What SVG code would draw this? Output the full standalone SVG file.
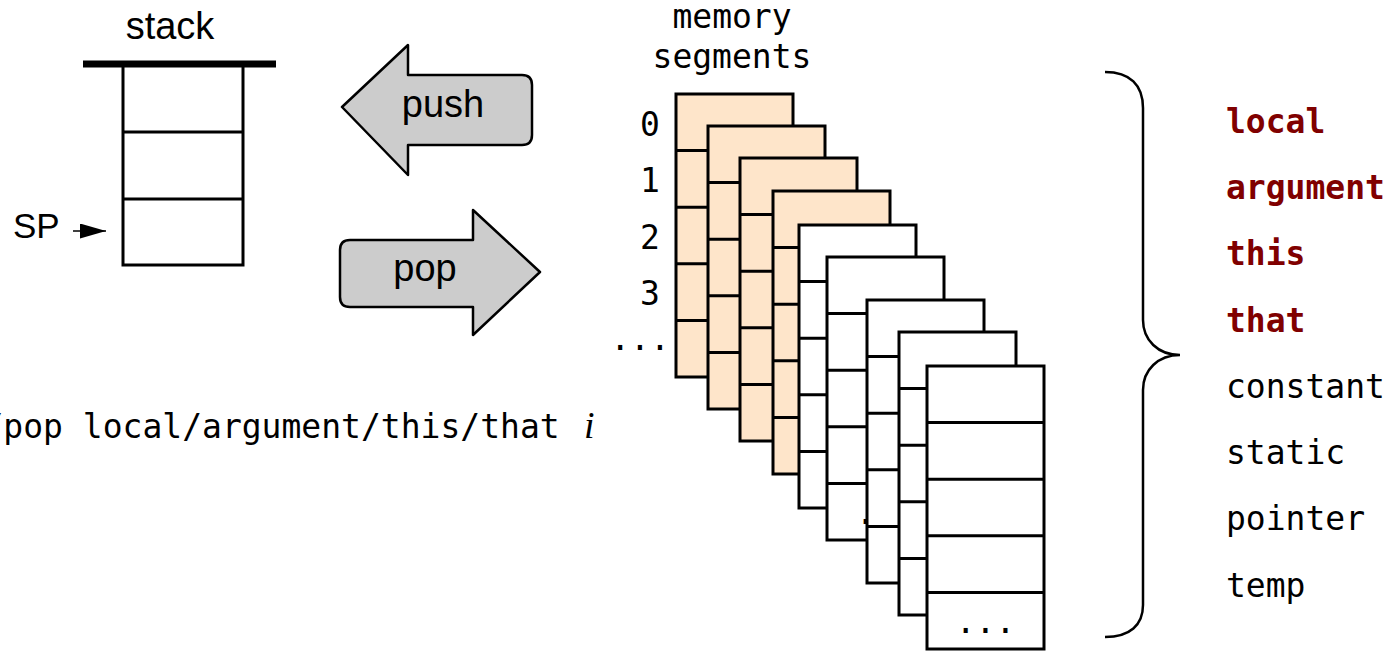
<svg xmlns="http://www.w3.org/2000/svg" xmlns:xlink="http://www.w3.org/1999/xlink" width="1394" height="651" viewBox="0 0 1394 651">
<style>
.sans{font-family:"Liberation Sans",Arial,sans-serif;fill:#000}
.mono{font-family:"DejaVu Sans Mono","Liberation Mono",monospace;font-size:33px;fill:#000}
.red{fill:#800000;font-weight:bold}
.box{stroke:#000;stroke-width:3;fill:none}
.seg{stroke:#000;stroke-width:3}
.orange{fill:#FEE5CA}
.white{fill:#fff}
.div{stroke:#000;stroke-width:3}
.arrow{fill:#cccccc;stroke:#000;stroke-width:2.5;stroke-linejoin:round}
</style>
<defs>
<g id="dividers">
<line class="div" x1="0" y1="56.6" x2="117" y2="56.6"/>
<line class="div" x1="0" y1="113.2" x2="117" y2="113.2"/>
<line class="div" x1="0" y1="169.8" x2="117" y2="169.8"/>
<line class="div" x1="0" y1="226.4" x2="117" y2="226.4"/>
</g>
<marker id="head" viewBox="0 0 26 15" refX="26" refY="7.5" markerWidth="26" markerHeight="15" markerUnits="userSpaceOnUse" orient="auto">
<path d="M0,0 L26,7.5 L0,15 Z" fill="#000"/>
</marker>
</defs>
<rect width="1394" height="651" fill="#fff"/>

<g id="stack">
<text class="sans" x="170" y="39" font-size="38" text-anchor="middle">stack</text>
<rect class="box" x="123" y="64" width="120" height="201"/>
<line class="div" x1="123" y1="132" x2="243" y2="132"/>
<line class="div" x1="123" y1="199" x2="243" y2="199"/>
<line x1="83" y1="64" x2="276" y2="64" stroke="#000" stroke-width="7"/>
</g>

<g id="sp-label">
<text class="sans" x="13" y="238" font-size="35">SP</text>
</g>

<g id="push">
<path class="arrow" d="M342,107 L408,45 L408,75 L522,75 Q532,75 532,85 L532,135 Q532,145 522,145 L408,145 L408,175 Z"/>
<text class="sans" x="443" y="117" font-size="38" text-anchor="middle">push</text>
</g>

<g id="pop">
<path class="arrow" d="M340,250 Q340,240 350,240 L473,240 L473,210 L540,272 L473,335 L473,307 L350,307 Q340,307 340,297 Z"/>
<text class="sans" x="425" y="281" font-size="38" text-anchor="middle">pop</text>
</g>

<g id="command">
<text class="mono" x="-96" y="438">push/pop local/argument/this/that</text>
<text x="584" y="438" font-family="'Liberation Serif','Times New Roman',serif" font-style="italic" font-size="38">i</text>
</g>

<g id="memory-title">
<text class="mono" x="732" y="28" text-anchor="middle">memory</text>
<text class="mono" x="732" y="68" text-anchor="middle">segments</text>
</g>

<g id="indices">
<text class="mono" x="650" y="136" text-anchor="middle">0</text>
<text class="mono" x="650" y="192" text-anchor="middle">1</text>
<text class="mono" x="650" y="249" text-anchor="middle">2</text>
<text class="mono" x="650" y="305" text-anchor="middle">3</text>
<text class="mono" x="640" y="350" text-anchor="middle">...</text>
</g>

<g id="segment1" transform="translate(676,94)"><rect class="seg orange" width="117" height="283"/><use xlink:href="#dividers"/></g>
<g id="segment2" transform="translate(708,126)"><rect class="seg orange" width="117" height="283"/><use xlink:href="#dividers"/></g>
<g id="segment3" transform="translate(740,158)"><rect class="seg orange" width="117" height="283"/><use xlink:href="#dividers"/></g>
<g id="segment4" transform="translate(773,191)"><rect class="seg orange" width="117" height="283"/><use xlink:href="#dividers"/></g>
<g id="segment5" transform="translate(799,225)"><rect class="seg white" width="117" height="283"/><use xlink:href="#dividers"/></g>
<g id="segment6" transform="translate(827,257)"><rect class="seg white" width="117" height="283"/><use xlink:href="#dividers"/><text class="mono" x="58.5" y="267" text-anchor="middle">...</text></g>
<g id="segment7" transform="translate(867,300)"><rect class="seg white" width="117" height="283"/><use xlink:href="#dividers"/></g>
<g id="segment8" transform="translate(899,332)"><rect class="seg white" width="117" height="283"/><use xlink:href="#dividers"/></g>
<g id="segment9" transform="translate(927,366)"><rect class="seg white" width="117" height="283"/><use xlink:href="#dividers"/><text class="mono" x="58.5" y="267" text-anchor="middle">...</text></g>

<g id="brace">
<path d="M1105,72 C1130,72 1143,85 1143,108 L1143,320 C1143,340 1158,355 1180,355 C1158,355 1143,370 1143,390 L1143,605 C1143,625 1130,637 1105,637" fill="none" stroke="#000" stroke-width="2.5"/>
</g>

<g id="segment-names">
<text class="mono red" x="1226" y="133">local</text>
<text class="mono red" x="1226" y="199">argument</text>
<text class="mono red" x="1226" y="265">this</text>
<text class="mono red" x="1226" y="332">that</text>
<text class="mono" x="1226" y="398">constant</text>
<text class="mono" x="1226" y="464">static</text>
<text class="mono" x="1226" y="530">pointer</text>
<text class="mono" x="1226" y="597">temp</text>
</g>

<g id="connectors">
<line x1="73" y1="231" x2="106" y2="231" stroke="#000" stroke-width="1.5" marker-end="url(#head)"/>
</g>
</svg>
